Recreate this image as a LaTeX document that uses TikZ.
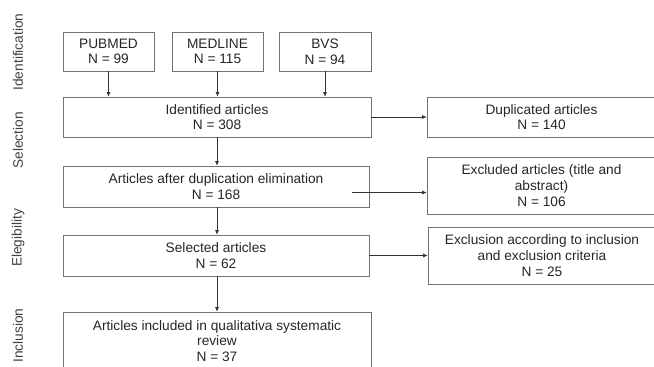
\documentclass[tikz,border=0pt]{standalone}
\usepackage{fontspec}
\setmainfont{Liberation Sans}
\usetikzlibrary{positioning}
\usetikzlibrary{arrows.meta}

\tikzset{
  box/.style={draw=black!55, line width=0.7pt, align=center, inner sep=0pt,
    font=\fontsize{13.7}{15.7}\selectfont, text=black!85},
  flow/.style={draw=black!80, line width=0.6pt, -{Latex[length=4.5pt,width=4pt]}},
  phase/.style={rotate=90, font=\fontsize{13.7}{15.7}\selectfont, text=black!75}
}

\begin{document}
\begin{tikzpicture}[x=1pt,y=-1pt]
\useasboundingbox (0,0) rectangle (654,367);
\clip (0,0) rectangle (654,367);

% phases
\node[phase] (identification) at (18,52) {Identification};
\node[phase] (selection) at (18,140.5) {Selection};
\node[phase] (elegibility) at (18,238) {Elegibility};
\node[phase] (inclusion) at (18,335.5) {Inclusion};

% sources
\node[box, minimum width=91pt, minimum height=39pt] (pubmed) at (108.5,51.5) {PUBMED\\N = 99};
\node[box, minimum width=91pt, minimum height=39pt] (medline) at (217.5,51.5) {MEDLINE\\N = 115};
\node[box, minimum width=92pt, minimum height=39pt] (bvs) at (325,51.5) {BVS\\N = 94};

% main column
\node[box, minimum width=308pt, minimum height=40pt] (ident) at (217,117) {Identified articles\\N = 308};
\node[box, minimum width=306pt, minimum height=41pt] (after) at (216,186.5) {Articles after duplication elimination\\N = 168};
\node[box, minimum width=306pt, minimum height=41pt] (sel) at (216,255.5) {Selected articles\\N = 62};
\node[box, minimum width=308pt, minimum height=58pt] (incl) at (217,341) {Articles included in qualitativa systematic\\review\\N = 37};

% right column
\node[box, minimum width=229pt, minimum height=40pt] (dup) at (541.5,117) {Duplicated articles\\N = 140};
\node[box, minimum width=229pt, minimum height=57pt] (excl) at (541.5,185.5) {Excluded articles (title and\\abstract)\\N = 106};
\node[box, minimum width=228pt, minimum height=57pt] (crit) at (542,255.5) {Exclusion according to inclusion\\and exclusion criteria\\N = 25};

% down
\draw[flow] (pubmed.south) -- (pubmed.south |- ident.north);
\draw[flow] (medline.south) -- (medline.south |- ident.north);
\draw[flow] (bvs.south) -- (bvs.south |- ident.north);
\draw[flow] (ident.south) -- (ident.south |- after.north);
\draw[flow] (ident.south |- after.south) -- (ident.south |- sel.north);
\draw[flow] (ident.south |- sel.south) -- (incl.north);

% right
\draw[flow] (ident.east) -- (dup.west);
\coordinate (cut) at (352,192.5);
\draw[flow] (cut) -- (cut -| excl.west);
\draw[flow] (sel.east) -- (sel.east -| crit.west);

\end{tikzpicture}
\end{document}
